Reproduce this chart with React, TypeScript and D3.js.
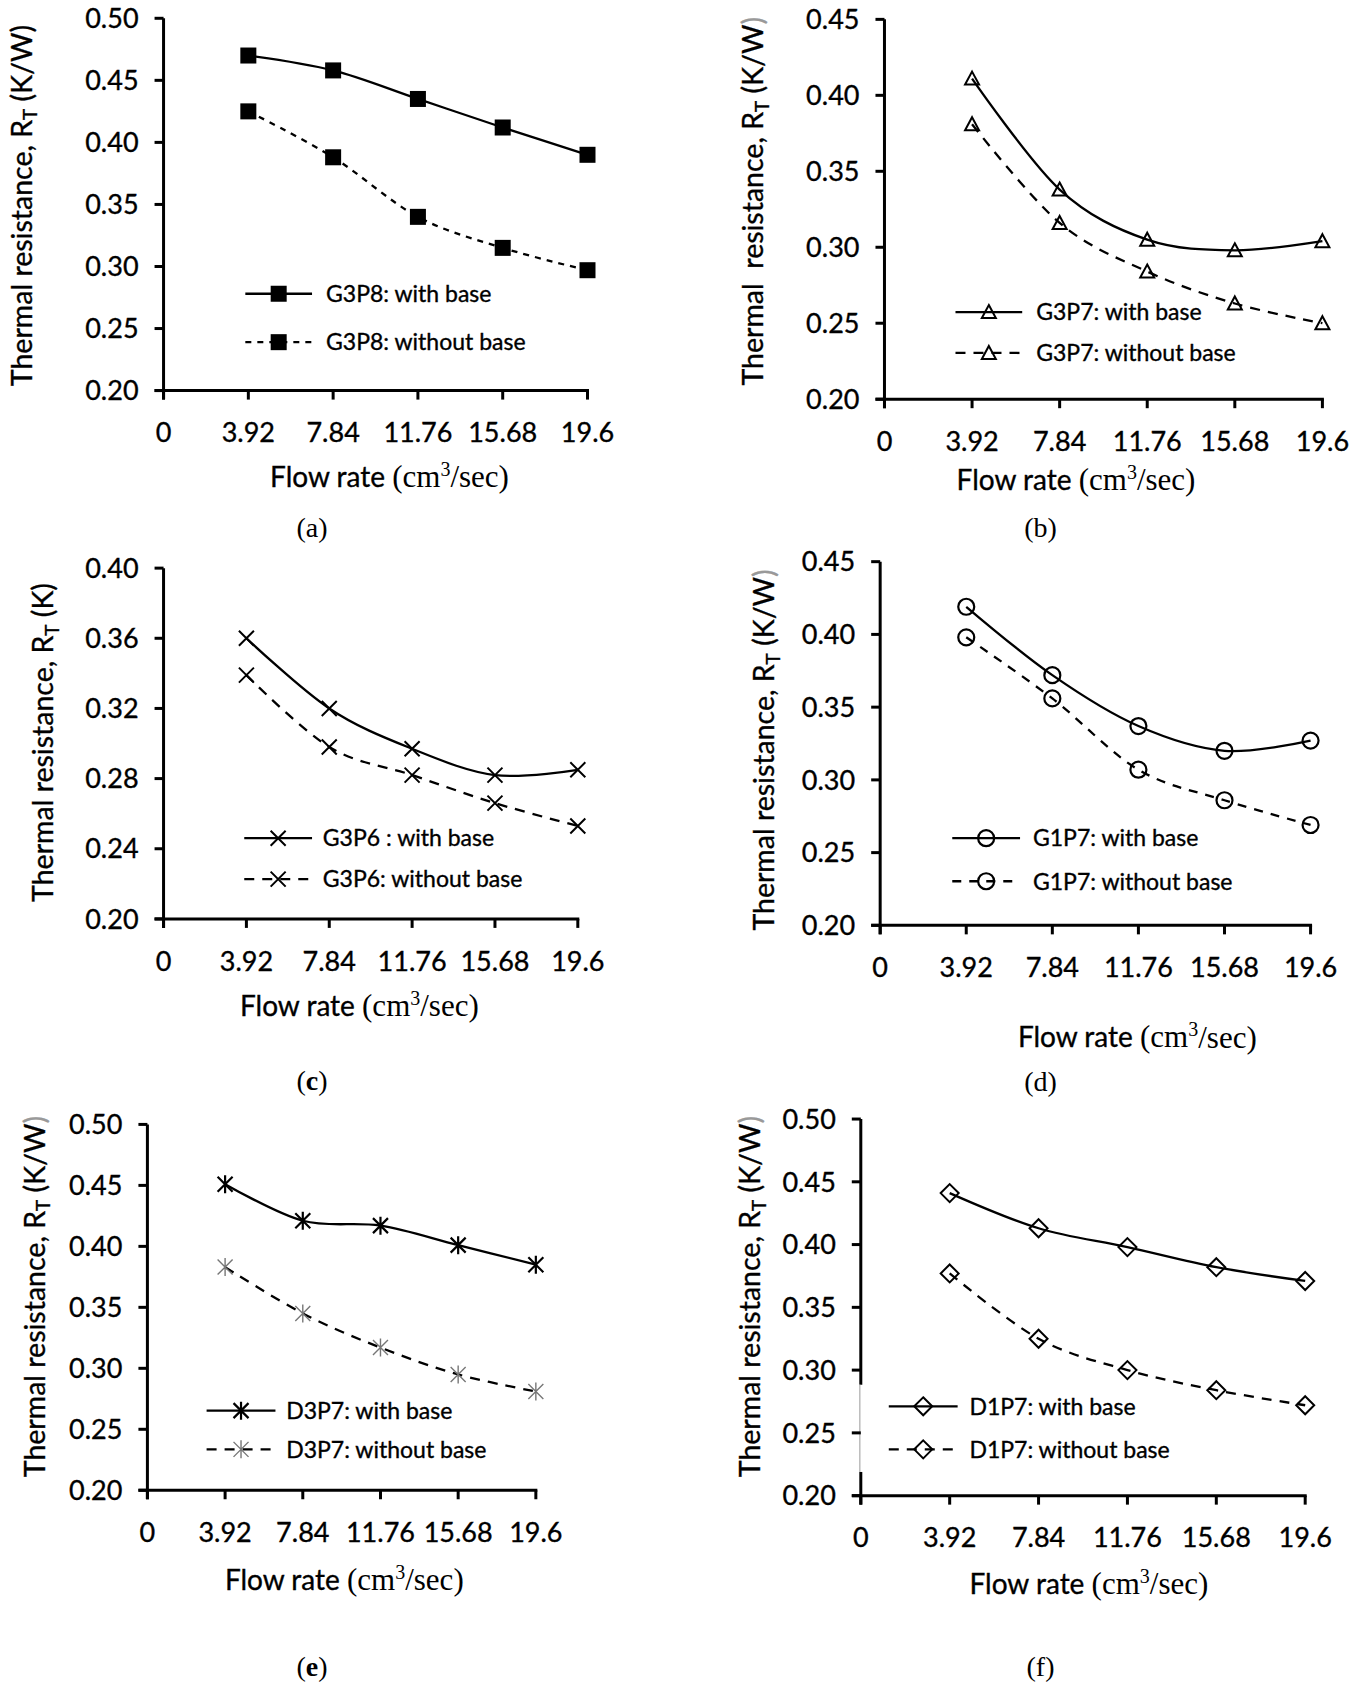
import React from 'react';
import * as d3 from 'd3';

// ---------- DATA ----------
const flowRates = [3.92, 7.84, 11.76, 15.68, 19.6];
const xTickValues = [0, 3.92, 7.84, 11.76, 15.68, 19.6];
const xTickLabels = ['0', '3.92', '7.84', '11.76', '15.68', '19.6'];

const g3p8With = [0.47, 0.458, 0.435, 0.412, 0.39];
const g3p8Without = [0.425, 0.388, 0.34, 0.315, 0.297];
const g3p7With = [0.411, 0.338, 0.305, 0.298, 0.304];
const g3p7Without = [0.381, 0.316, 0.284, 0.263, 0.25];
const g3p6With = [0.36, 0.32, 0.297, 0.282, 0.285];
const g3p6Without = [0.339, 0.298, 0.282, 0.266, 0.253];
const g1p7With = [0.419, 0.372, 0.337, 0.32, 0.327];
const g1p7Without = [0.398, 0.356, 0.307, 0.286, 0.269];
const d3p7With = [0.451, 0.421, 0.417, 0.401, 0.385];
const d3p7Without = [0.383, 0.345, 0.317, 0.295, 0.281];
const d1p7With = [0.441, 0.413, 0.398, 0.382, 0.371];
const d1p7Without = [0.377, 0.325, 0.3, 0.284, 0.272];

const yTicks050 = [0.2, 0.25, 0.3, 0.35, 0.4, 0.45, 0.5];
const yTicks045 = [0.2, 0.25, 0.3, 0.35, 0.4, 0.45];
const yTicks040 = [0.2, 0.24, 0.28, 0.32, 0.36, 0.4];

const legendA = ['G3P8: with base', 'G3P8: without base'];
const legendB = ['G3P7: with base', 'G3P7: without base'];
const legendC = ['G3P6 : with base', 'G3P6: without base'];
const legendD = ['G1P7: with base', 'G1P7: without base'];
const legendE = ['D3P7: with base', 'D3P7: without base'];
const legendF = ['D1P7: with base', 'D1P7: without base'];

// ---------- LAYOUT (display coords * S) ----------
const S = 1.076;
const SANS = 'Lato, "Open Sans", sans-serif';
const SERIF = '"Liberation Serif", "Times New Roman", serif';
const TXT_STROKE = 0.35;

type Layout = {
  ax: number; ax1: number; yTop: number; yBot: number;
  titleX: number; titleY: number;
  flowX: number; flowY: number;
  labX: number; labY: number;
  legX0: number; legX1: number; legY1: number; legY2: number; legTx: number;
};

const L = (o: Layout): Layout => {
  const r: any = {};
  Object.keys(o).forEach((k) => (r[k] = (o as any)[k] * S));
  return r;
};

const layoutA = L({ ax: 152, ax1: 546, yTop: 17, yBot: 363, titleX: 20, titleY: 191, flowX: 362, flowY: 443, labX: 290, labY: 490, legX0: 228, legX1: 290, legY1: 273, legY2: 318, legTx: 303 });
const layoutB = L({ ax: 822, ax1: 1229, yTop: 18, yBot: 371, titleX: 700, titleY: 187, flowX: 1000, flowY: 446, labX: 967, labY: 490, legX0: 888, legX1: 950, legY1: 290, legY2: 328, legTx: 963 });
const layoutC = L({ ax: 152, ax1: 537, yTop: 528, yBot: 854, titleX: 40, titleY: 690, flowX: 334, flowY: 935, labX: 290, labY: 1004, legX0: 227, legX1: 290, legY1: 779, legY2: 817, legTx: 300 });
const layoutD = L({ ax: 818, ax1: 1218, yTop: 522, yBot: 860, titleX: 710, titleY: 697, flowX: 1057, flowY: 964, labX: 967, labY: 1005, legX0: 885, legX1: 948, legY1: 779, legY2: 819, legTx: 960 });
const layoutE = L({ ax: 137, ax1: 498, yTop: 1045, yBot: 1385, titleX: 32, titleY: 1205, flowX: 320, flowY: 1468, labX: 290, labY: 1548, legX0: 192, legX1: 256, legY1: 1311, legY2: 1347, legTx: 266 });
const layoutF = L({ ax: 800, ax1: 1213, yTop: 1040, yBot: 1390, titleX: 697, titleY: 1205, flowX: 1012, flowY: 1472, labX: 967, labY: 1548, legX0: 826, legX1: 890, legY1: 1307, legY2: 1347, legTx: 901 });

type MarkerType = 'square' | 'triangle' | 'x' | 'circle' | 'asterisk' | 'diamond';

function Marker({ type, cx, cy, color = '#000' }: { type: MarkerType; cx: number; cy: number; color?: string }) {
  switch (type) {
    case 'square':
      return <rect x={cx - 8} y={cy - 8} width={16} height={16} fill="#000" />;
    case 'triangle':
      return (
        <path d={`M${cx},${cy - 7} L${cx + 7},${cy + 6} L${cx - 7},${cy + 6} Z`} fill="none" stroke="#000" strokeWidth={2} />
      );
    case 'x':
      return (
        <path d={`M${cx - 7.5},${cy - 7.5} L${cx + 7.5},${cy + 7.5} M${cx + 7.5},${cy - 7.5} L${cx - 7.5},${cy + 7.5}`} stroke="#000" strokeWidth={2} fill="none" />
      );
    case 'circle':
      return <circle cx={cx} cy={cy} r={8} fill="none" stroke="#000" strokeWidth={2.2} />;
    case 'asterisk':
      return (
        <path
          d={`M${cx - 7.5},${cy - 7.5} L${cx + 7.5},${cy + 7.5} M${cx + 7.5},${cy - 7.5} L${cx - 7.5},${cy + 7.5} M${cx},${cy - 9} L${cx},${cy + 9}`}
          stroke={color}
          strokeWidth={color === '#000' ? 2.2 : 1.4}
          fill="none"
        />
      );
    case 'diamond':
      return (
        <path d={`M${cx},${cy - 9} L${cx + 9},${cy} L${cx},${cy + 9} L${cx - 9},${cy} Z`} fill="none" stroke="#000" strokeWidth={2} />
      );
  }
  return null;
}

type PanelProps = {
  lay: Layout;
  yTicks: number[];
  withBase: number[];
  withoutBase: number[];
  marker: MarkerType;
  legend: string[];
  unit: string;
  titlePrefix: string;
  greyParen: boolean;
  label: string;
  boldLabel: boolean;
  dash: string;
  legDash: string;
  dashedMarkerColor?: string;
  axisGap?: [number, number];
};

function Panel(p: PanelProps) {
  const { lay } = p;
  const x = d3.scaleLinear().domain([0, 19.6]).range([lay.ax, lay.ax1]);
  const y = d3
    .scaleLinear()
    .domain([p.yTicks[0], p.yTicks[p.yTicks.length - 1]])
    .range([lay.yBot, lay.yTop]);
  const line = d3
    .line<number>()
    .x((_, i) => x(flowRates[i]))
    .y((d) => y(d))
    .curve(d3.curveCardinal.tension(0));
  const fmt = d3.format('.2f');
  const tick = 9;
  const legMid = (lay.legX0 + lay.legX1) / 2;
  const dashedColor = p.dashedMarkerColor || '#000';
  const ts = { stroke: '#000', strokeWidth: TXT_STROKE };

  return (
    <g>
      {/* lines */}
      <path d={line(p.withBase) || ''} fill="none" stroke="#000" strokeWidth={2.3} />
      <path d={line(p.withoutBase) || ''} fill="none" stroke="#000" strokeWidth={2.3} strokeDasharray={p.dash} />
      {/* markers */}
      {p.withBase.map((v, i) => (
        <Marker key={'w' + i} type={p.marker} cx={x(flowRates[i])} cy={y(v)} />
      ))}
      {p.withoutBase.map((v, i) => (
        <Marker key={'o' + i} type={p.marker} cx={x(flowRates[i])} cy={y(v)} color={dashedColor} />
      ))}
      {/* axes */}
      {p.axisGap ? (
        <g>
          <line x1={lay.ax} x2={lay.ax} y1={lay.yTop} y2={p.axisGap[0]} stroke="#000" strokeWidth={3} />
          <line x1={lay.ax} x2={lay.ax} y1={p.axisGap[1]} y2={lay.yBot + tick} stroke="#000" strokeWidth={3} />
          <line x1={lay.ax - 1} x2={lay.ax - 1} y1={p.axisGap[0]} y2={p.axisGap[1]} stroke="#bbb" strokeWidth={1.5} />
        </g>
      ) : (
        <line x1={lay.ax} x2={lay.ax} y1={lay.yTop} y2={lay.yBot + tick} stroke="#000" strokeWidth={3} />
      )}
      <line x1={lay.ax - tick} x2={lay.ax1 + 1.5} y1={lay.yBot} y2={lay.yBot} stroke="#000" strokeWidth={3} />
      {p.yTicks.map((t) => (
        <g key={'yt' + t}>
          <line x1={lay.ax - tick} x2={lay.ax} y1={y(t)} y2={y(t)} stroke="#000" strokeWidth={3} />
          <text x={lay.ax - 25} y={y(t)} dy="0.36em" textAnchor="end" fontFamily={SANS} fontSize={27} fill="#000" {...ts}>
            {fmt(t)}
          </text>
        </g>
      ))}
      {xTickValues.map((t, i) => (
        <g key={'xt' + i}>
          <line x1={x(t)} x2={x(t)} y1={lay.yBot} y2={lay.yBot + tick} stroke="#000" strokeWidth={3} />
          <text x={x(t)} y={lay.yBot + 42} dy="0.36em" textAnchor="middle" fontFamily={SANS} fontSize={27} fill="#000" {...ts}>
            {xTickLabels[i]}
          </text>
        </g>
      ))}
      {/* y title */}
      <text
        transform={`translate(${lay.titleX},${lay.titleY}) rotate(-90)`}
        textAnchor="middle"
        dy="0.36em"
        fontFamily={SANS}
        fontSize={28.5}
        fill="#000"
        {...ts}
        style={{ whiteSpace: 'pre' }}
      >
        {p.titlePrefix}
        <tspan fontSize={19} dy="0.3em">T</tspan>
        <tspan dy="-0.2em">{' (' + p.unit}</tspan>
        <tspan fill={p.greyParen ? '#999' : '#000'} stroke={p.greyParen ? '#999' : '#000'}>)</tspan>
      </text>
      {/* x title */}
      <text x={lay.flowX} y={lay.flowY} dy="0.36em" textAnchor="middle" fontSize={28} fill="#000">
        <tspan fontFamily={SANS} {...ts}>Flow rate </tspan>
        <tspan fontFamily={SERIF} fontSize={31}>(cm</tspan>
        <tspan fontFamily={SERIF} fontSize={20} dy="-0.55em">3</tspan>
        <tspan fontFamily={SERIF} fontSize={31} dy="0.36em">/sec)</tspan>
      </text>
      {/* panel label */}
      <text x={lay.labX} y={lay.labY} dy="0.36em" textAnchor="middle" fontFamily={SERIF} fontSize={28} fill="#000">
        (<tspan fontWeight={p.boldLabel ? 'bold' : 'normal'}>{p.label}</tspan>)
      </text>
      {/* legend */}
      <line x1={lay.legX0} x2={lay.legX1} y1={lay.legY1} y2={lay.legY1} stroke="#000" strokeWidth={2.3} />
      <Marker type={p.marker} cx={legMid} cy={lay.legY1} />
      <text x={lay.legTx} y={lay.legY1} dy="0.36em" fontFamily={SANS} fontSize={23} fill="#000" {...ts}>
        {p.legend[0]}
      </text>
      <line x1={lay.legX0} x2={lay.legX1} y1={lay.legY2} y2={lay.legY2} stroke="#000" strokeWidth={2.3} strokeDasharray={p.legDash} />
      <Marker type={p.marker} cx={legMid} cy={lay.legY2} color={dashedColor} />
      <text x={lay.legTx} y={lay.legY2} dy="0.36em" fontFamily={SANS} fontSize={23} fill="#000" {...ts}>
        {p.legend[1]}
      </text>
    </g>
  );
}

export default function App() {
  return (
    <svg
      width={1358}
      height={1688}
      viewBox="0 0 1358 1688"
      style={{ position: 'absolute', left: 0, top: 0, background: '#fff' }}
    >
      <rect x={0} y={0} width={1358} height={1688} fill="#fff" />
      <Panel lay={layoutA} yTicks={yTicks050} withBase={g3p8With} withoutBase={g3p8Without} marker="square" legend={legendA}
        unit="K/W" titlePrefix="Thermal resistance, R" greyParen={false} label="a" boldLabel={false} dash="6,6" legDash="6,6" />
      <Panel lay={layoutB} yTicks={yTicks045} withBase={g3p7With} withoutBase={g3p7Without} marker="triangle" legend={legendB}
        unit="K/W" titlePrefix="Thermal  resistance, R" greyParen={true} label="b" boldLabel={false} dash="10,8" legDash="10,8" />
      <Panel lay={layoutC} yTicks={yTicks040} withBase={g3p6With} withoutBase={g3p6Without} marker="x" legend={legendC}
        unit="K" titlePrefix="Thermal resistance, R" greyParen={false} label="c" boldLabel={true} dash="10,8" legDash="10,8" />
      <Panel lay={layoutD} yTicks={yTicks045} withBase={g1p7With} withoutBase={g1p7Without} marker="circle" legend={legendD}
        unit="K/W" titlePrefix="Thermal resistance, R" greyParen={true} label="d" boldLabel={false} dash="9,8" legDash="9,8" />
      <Panel lay={layoutE} yTicks={yTicks050} withBase={d3p7With} withoutBase={d3p7Without} marker="asterisk" legend={legendE}
        unit="K/W" titlePrefix="Thermal resistance, R" greyParen={true} label="e" boldLabel={true} dash="10,8" legDash="10,8" dashedMarkerColor="#777" />
      <Panel lay={layoutF} yTicks={yTicks050} withBase={d1p7With} withoutBase={d1p7Without} marker="diamond" legend={legendF}
        unit="K/W" titlePrefix="Thermal resistance, R" greyParen={true} label="f" boldLabel={false} dash="10,8" legDash="10,8"
        axisGap={[1287 * S, 1368 * S]} />
    </svg>
  );
}
